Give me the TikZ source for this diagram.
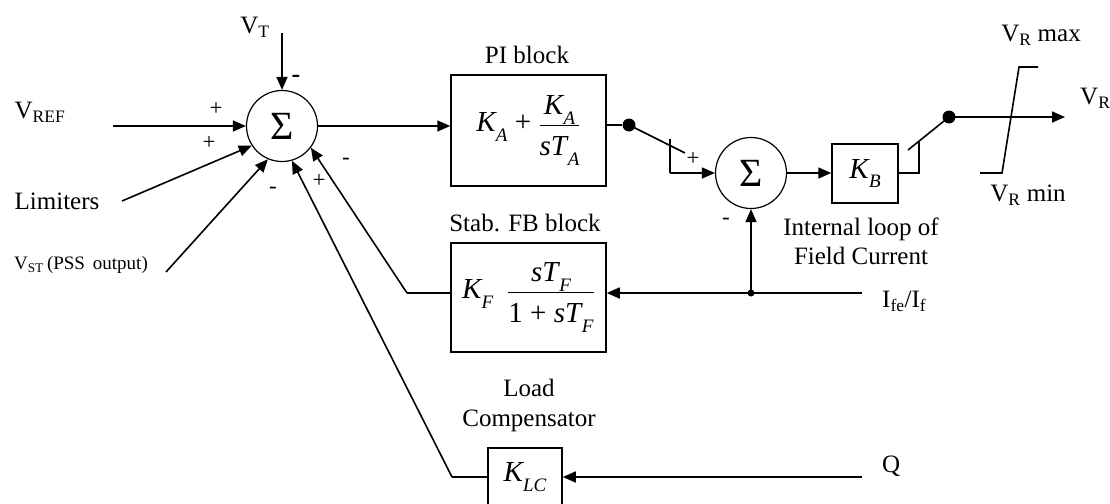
\documentclass[tikz,border=0pt]{standalone}
\usepackage{fontspec}
\setmainfont{Liberation Serif}
\usetikzlibrary{arrows.meta}
\newcommand\kk[2]{\textit{#1}\kern-1pt\raisebox{-0.34em}{\fontsize{19}{19}\selectfont\textit{#2}}}
\newcommand\numst{\rule[-9pt]{0pt}{9pt}}
\newcommand\denst{\rule{0pt}{29pt}}
\begin{document}
\begin{tikzpicture}[x=1pt,y=-1pt,
  wire/.style={line width=1.6pt},
  arr/.style={wire,-{Triangle[length=13pt,width=11pt]}},
  lbl/.style={font=\fontsize{25}{28}\selectfont,inner sep=0pt},
  small/.style={font=\fontsize{19}{21}\selectfont,inner sep=0pt},
  sgn/.style={font=\fontsize{23}{23}\selectfont,inner sep=0pt},
  blk/.style={draw,line width=1.5pt,inner sep=0pt,font=\fontsize{29}{32}\selectfont},
  sumn/.style={draw,circle,line width=1.2pt,minimum size=71pt,inner sep=0pt,font=\fontsize{40}{40}\selectfont},
  dotn/.style={circle,fill,minimum size=13pt,inner sep=0pt},
  jdot/.style={circle,fill,minimum size=7pt,inner sep=0pt}]
\useasboundingbox (0,0) rectangle (1110,503);
\fill[white] (0,0) rectangle (1110,503);

% summing junctions
\node[sumn] (s1) at (282,126) {Σ};
\node[sumn] (s2) at (751,173) {Σ};

% blocks
\node[blk,minimum width=155pt,minimum height=111pt] (pi) at (528.5,130.5)
  {$\displaystyle\mbox{\kk{K}{A}}\mbox{ + }\frac{\mbox{\numst\kk{K}{A}}}{\mbox{\denst\textit{s}\kk{T}{A}}}$};
\node[blk,minimum width=155pt,minimum height=109pt] (stab) at (528.5,297.5)
  {$\displaystyle\mbox{\kk{K}{F}}\;\;\frac{\mbox{\numst\textit{s}\kk{T}{F}}}{\mbox{\denst 1 + \textit{s}\kk{T}{F}}}$};
\node[blk,minimum width=66pt,minimum height=59pt] (kb) at (865,173.5) {\kk{K}{B}};
\node[blk,minimum width=74pt,minimum height=58pt] (klc) at (525,477) {\kk{K}{LC}};

% labels
\node[lbl] (lvt) at (255,27) {V\textsubscript{T}};
\node[lbl] (lvref) at (40,112) {V\textsubscript{REF}};
\node[lbl] (llim) at (57,201) {Limiters};
\node[small] (lvst) at (81,265) {V\textsubscript{ST}\,(PSS\, output)};
\node[lbl] (lpi) at (527,55) {PI block};
\node[lbl] (lstab) at (525,223) {Stab. FB block};
\node[lbl,align=center] (lload) at (529,405) {Load\\[2pt]Compensator};
\node[lbl,align=center] (lint) at (861,241) {Internal loop of\\[1pt]Field Current};
\node[lbl,anchor=west] (life) at (882,301) {I\textsubscript{fe}/I\textsubscript{f}};
\node[lbl,anchor=west] (lq) at (882,466) {Q};
\node[lbl] (lmax) at (1041,35) {V\textsubscript{R} max};
\node[lbl] (lmin) at (1028,195) {V\textsubscript{R} min};
\node[lbl,anchor=west] (lvr) at (1080,98) {V\textsubscript{R}};

% signs
\node[sgn,font=\fontsize{26}{26}\selectfont\bfseries] (m1) at (296,79) {-};
\node[sgn] (p1) at (216,109) {+};
\node[sgn] (p2) at (209,143) {+};
\node[sgn] (m2) at (273,190) {-};
\node[sgn] (p3) at (319,181) {+};
\node[sgn] (m3) at (346,161) {-};
\node[sgn] (p4) at (693,159) {+};
\node[sgn] (m4) at (726,221) {-};

% coordinates
\coordinate (vt) at (282,33);
\coordinate (vref) at (113,126);
\coordinate (lim) at (122,201);
\coordinate (vst) at (166,272);
\coordinate (dA) at (629,125);
\coordinate (swA) at (685,153);
\coordinate (swT) at (670,139);
\coordinate (swB) at (670,173);
\coordinate (kbC) at (919,173);
\coordinate (kbT) at (919,142);
\coordinate (swD) at (908,150);
\coordinate (dB) at (949,117);
\coordinate (vrE) at (1065,117);
\coordinate (ife) at (862,293);
\coordinate (q) at (862,477);
\coordinate (stC) at (407,293);
\coordinate (klcC) at (452,477);
\coordinate (satA) at (1038,67);
\coordinate (satB) at (1019,67);
\coordinate (satC) at (1002,173);
\coordinate (satD) at (980,173);

\node[dotn] (dotA) at (dA) {};
\node[dotn] (dotB) at (dB) {};
\node[jdot] (junc) at (751,293) {};

% connectors
\draw[arr] (vt) -- (s1.north);
\draw[arr] (vref) -- (s1.180);
\draw[arr] (lim) -- (s1.213);
\draw[arr] (vst) -- (s1.247);
\draw[arr] (s1.east) -- (s1.east -| pi.west);
\draw[wire] (pi.east |- dotA) -- (dotA);
\draw[wire] (dotA.center) -- (swA);
\draw[wire] (swT) -- (swB);
\draw[arr] (swB) -- (s2.west);
\draw[arr] (s2.east) -- (s2.east -| kb.west);
\draw[wire] (kb.east |- kbC) -- (kbC) -- (kbT);
\draw[wire] (swD) -- (dotB.center);
\draw[arr] (dotB.center) -- (vrE);
\draw[wire] (satA) -- (satB) -- (satC) -- (satD);
\draw[arr] (ife) -- (ife -| stab.east);
\draw[arr] (junc.center) -- (s2.south);
\draw[wire] (stab.west |- junc) -- (stC);
\draw[arr] (stC) -- (s1.323);
\draw[arr] (q) -- (klc.east);
\draw[wire] (klc.west) -- (klcC);
\draw[arr] (klcC) -- (s1.286);
\end{tikzpicture}
\end{document}
